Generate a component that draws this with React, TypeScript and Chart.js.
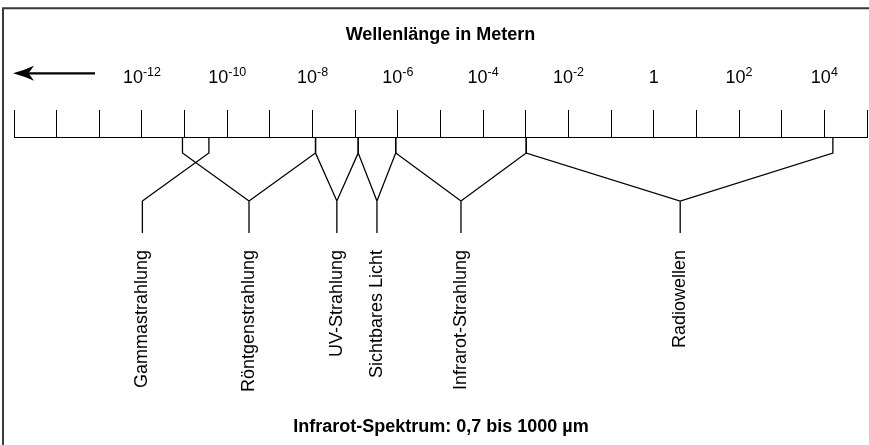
import React, { useEffect, useRef } from 'react';
import { Chart, registerables } from 'chart.js';

Chart.register(...registerables);

// log10 of the wavelength in metres, one tick per decade
const AXIS_TICKS = [-15, -14, -13, -12, -11, -10, -9, -8, -7, -6, -5, -4, -3, -2, -1, 0, 1, 2, 3, 4, 5];
const TICK_LABEL_EXPONENTS = [-12, -10, -8, -6, -4, -2, 0, 2, 4];

const BAND_NAMES = ['Gammastrahlung', 'Röntgenstrahlung', 'UV-Strahlung', 'Sichtbares Licht', 'Infrarot-Strahlung', 'Radiowellen'];
const BAND_LOWER: (number | null)[] = [null, -11.05, -7.93, -6.93, -6.05, -2.99];
const BAND_UPPER = [-10.43, -7.93, -6.93, -6.05, -2.99, 4.2];
const BAND_LABEL_AT = [-11.99, -9.49, -7.43, -6.49, -4.52, 0.62];

// depth below the axis: axis, knee, apex, end of stem
const BRACKET_DEPTHS = [0, 16, 64, 96];
const LABEL_DEPTH = 113;

const TITLE = 'Wellenlänge in Metern';
const NOTE = 'Infrarot-Spektrum: 0,7 bis 1000 µm';

const FONT = '"Liberation Sans", Arial, sans-serif';

const decorPlugin = {
  id: 'decor',
  afterDraw(chart: any) {
    const ctx: CanvasRenderingContext2D = chart.ctx;
    const xs = chart.scales.x;
    const ys = chart.scales.y;
    const W = chart.width;
    const H = chart.height;
    ctx.save();

    // frame (left + top)
    ctx.strokeStyle = '#3a3a3a';
    ctx.lineWidth = 2;
    ctx.beginPath();
    ctx.moveTo(3, H);
    ctx.lineTo(3, 8.3);
    ctx.lineTo(W, 8.3);
    ctx.stroke();

    // title
    ctx.fillStyle = '#000';
    ctx.font = `bold 18px ${FONT}`;
    ctx.textAlign = 'center';
    ctx.textBaseline = 'alphabetic';
    ctx.fillText(TITLE, (chart.chartArea.left + chart.chartArea.right) / 2, 40);

    // bottom note
    ctx.fillText(NOTE, (chart.chartArea.left + chart.chartArea.right) / 2 + 0.5, 432);

    // arrow
    ctx.strokeStyle = '#000';
    ctx.lineWidth = 2.2;
    ctx.beginPath();
    ctx.moveTo(27, 73.3);
    ctx.lineTo(95, 73.3);
    ctx.stroke();
    ctx.beginPath();
    ctx.moveTo(13, 73.3);
    ctx.quadraticCurveTo(25, 70, 34, 65.8);
    ctx.lineTo(28.5, 73.3);
    ctx.lineTo(34, 80.8);
    ctx.quadraticCurveTo(25, 76.6, 13, 73.3);
    ctx.closePath();
    ctx.fill();

    // tick labels 10^n
    ctx.textAlign = 'left';
    ctx.textBaseline = 'alphabetic';
    TICK_LABEL_EXPONENTS.forEach((e) => {
      const px = xs.getPixelForValue(e);
      if (e === 0) {
        ctx.font = `18px ${FONT}`;
        const w = ctx.measureText('1').width;
        ctx.fillText('1', px - w / 2, 83);
        return;
      }
      ctx.font = `18px ${FONT}`;
      const wb = ctx.measureText('10').width;
      ctx.font = `12.5px ${FONT}`;
      const sup = String(e);
      const ws = ctx.measureText(sup).width;
      const start = px - (wb + ws) / 2;
      ctx.font = `18px ${FONT}`;
      ctx.fillText('10', start, 83);
      ctx.font = `12.5px ${FONT}`;
      ctx.fillText(sup, start + wb, 75.5);
    });

    // band labels (rotated)
    ctx.font = `18px ${FONT}`;
    ctx.textAlign = 'right';
    ctx.textBaseline = 'middle';
    BAND_NAMES.forEach((name, i) => {
      const px = xs.getPixelForValue(BAND_LABEL_AT[i]);
      const py = ys.getPixelForValue(LABEL_DEPTH);
      ctx.save();
      ctx.translate(px, py);
      ctx.rotate(-Math.PI / 2);
      ctx.fillText(name, 0, 0);
      ctx.restore();
    });

    ctx.restore();
  },
};

function bracketPoints(i: number) {
  const [d0, d1, d2, d3] = BRACKET_DEPTHS;
  const lo = BAND_LOWER[i];
  const hi = BAND_UPPER[i];
  const c = BAND_LABEL_AT[i];
  const pts: { x: number; y: number | null }[] = [];
  if (lo !== null) {
    pts.push({ x: lo, y: d0 }, { x: lo, y: d1 });
  }
  pts.push({ x: c, y: d2 }, { x: hi, y: d1 }, { x: hi, y: d0 });
  pts.push({ x: c, y: null });
  pts.push({ x: c, y: d2 }, { x: c, y: d3 });
  return pts;
}

export default function App() {
  const canvasRef = useRef<HTMLCanvasElement | null>(null);

  useEffect(() => {
    if (!canvasRef.current) return;
    const chart = new Chart(canvasRef.current, {
      type: 'scatter',
      data: {
        datasets: BAND_NAMES.map((name, i) => ({
          label: name,
          data: bracketPoints(i),
          showLine: true,
          spanGaps: false,
          borderColor: '#000',
          borderWidth: 1.3,
          pointRadius: 0,
          tension: 0,
          fill: false,
        })),
      },
      options: {
        animation: false,
        responsive: true,
        maintainAspectRatio: false,
        layout: { padding: { top: 110, left: 14, right: 2, bottom: 8 } },
        plugins: {
          legend: { display: false },
          tooltip: { enabled: false },
          title: { display: false },
        },
        scales: {
          x: {
            type: 'linear',
            position: 'top',
            min: -15,
            max: 5,
            afterBuildTicks: (scale: any) => {
              scale.ticks = AXIS_TICKS.map((v) => ({ value: v }));
            },
            ticks: { display: false },
            grid: {
              display: true,
              drawOnChartArea: false,
              drawTicks: true,
              tickLength: 27,
              color: '#000',
              lineWidth: 1,
            },
            border: { display: true, color: '#000', width: 1 },
          },
          y: {
            type: 'linear',
            display: false,
            min: 0,
            max: 300,
            reverse: true,
          },
        },
      },
      plugins: [decorPlugin],
    } as any);
    return () => chart.destroy();
  }, []);

  return (
    <div style={{ position: 'absolute', left: 0, top: 0, width: 869, height: 445, background: '#fff' }}>
      <canvas ref={canvasRef} />
    </div>
  );
}
